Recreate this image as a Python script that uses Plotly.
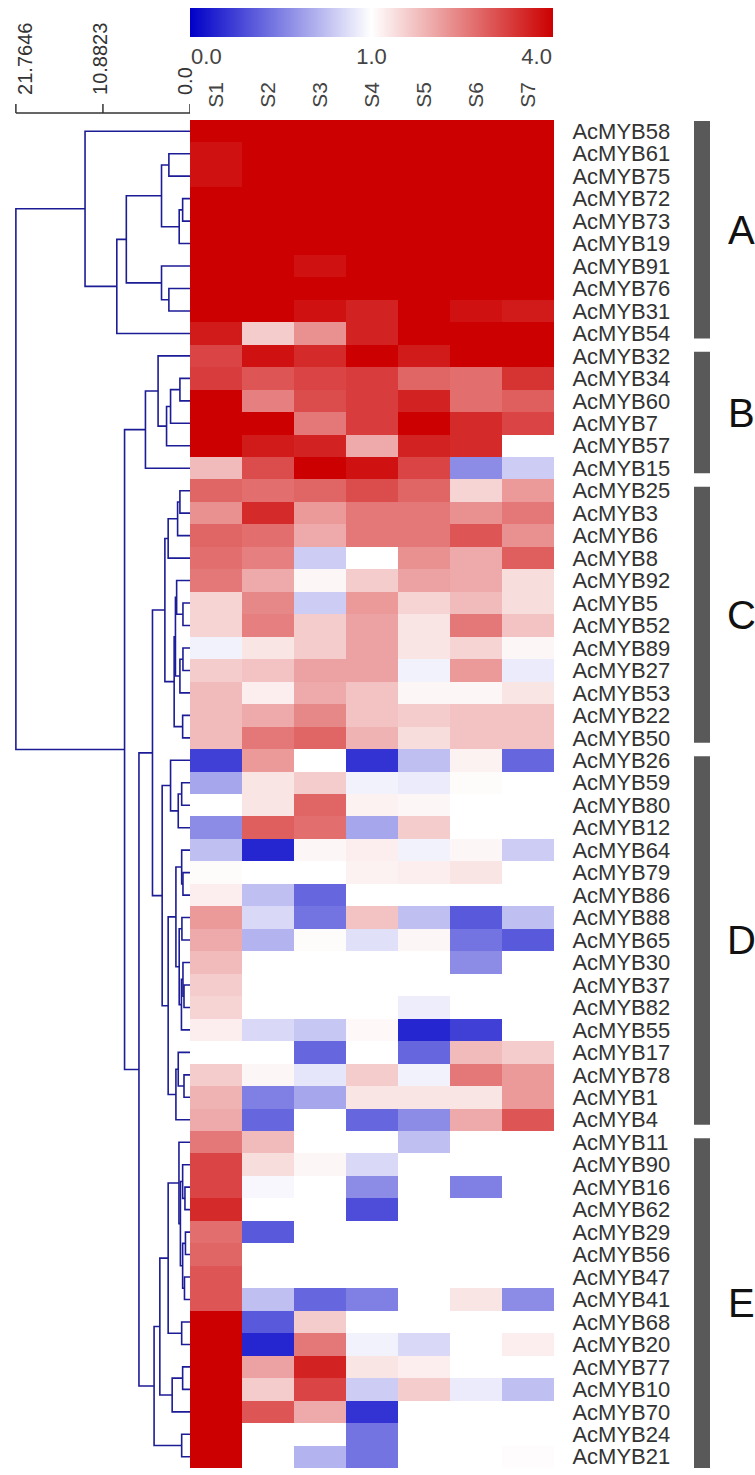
import plotly.graph_objects as go
import numpy as np

W, H = 755, 1475

SAMPLES = ["S1", "S2", "S3", "S4", "S5", "S6", "S7"]

GENES = [
    "AcMYB58", "AcMYB61", "AcMYB75", "AcMYB72", "AcMYB73", "AcMYB19", "AcMYB91", "AcMYB76", "AcMYB31", "AcMYB54",
    "AcMYB32", "AcMYB34", "AcMYB60", "AcMYB7", "AcMYB57", "AcMYB15",
    "AcMYB25", "AcMYB3", "AcMYB6", "AcMYB8", "AcMYB92", "AcMYB5", "AcMYB52", "AcMYB89", "AcMYB27", "AcMYB53",
    "AcMYB22", "AcMYB50",
    "AcMYB26", "AcMYB59", "AcMYB80", "AcMYB12", "AcMYB64", "AcMYB79", "AcMYB86", "AcMYB88", "AcMYB65", "AcMYB30",
    "AcMYB37", "AcMYB82", "AcMYB55", "AcMYB17", "AcMYB78", "AcMYB1", "AcMYB4",
    "AcMYB11", "AcMYB90", "AcMYB16", "AcMYB62", "AcMYB29", "AcMYB56", "AcMYB47", "AcMYB41", "AcMYB68", "AcMYB20",
    "AcMYB77", "AcMYB10", "AcMYB70", "AcMYB24", "AcMYB21",
]

# relative expression (colour scale 0 - 1 - 4), one list per gene, S1..S7
VALUES = [
    [4.0, 4.0, 4.0, 4.0, 4.0, 4.0, 4.0],
    [3.8, 4.0, 4.0, 4.0, 4.0, 4.0, 4.0],
    [3.8, 4.0, 4.0, 4.0, 4.0, 4.0, 4.0],
    [4.0, 4.0, 4.0, 4.0, 4.0, 4.0, 4.0],
    [4.0, 4.0, 4.0, 4.0, 4.0, 4.0, 4.0],
    [4.0, 4.0, 4.0, 4.0, 4.0, 4.0, 4.0],
    [4.0, 4.0, 3.8, 4.0, 4.0, 4.0, 4.0],
    [4.0, 4.0, 4.0, 4.0, 4.0, 4.0, 4.0],
    [4.0, 4.0, 3.8, 3.6, 4.0, 3.8, 3.7],
    [3.7, 1.6, 2.3, 3.6, 4.0, 4.0, 4.0],
    [3.2, 3.8, 3.5, 4.0, 3.7, 4.0, 4.0],
    [3.3, 3.0, 3.2, 3.3, 2.8, 2.7, 3.4],
    [4.0, 2.5, 3.1, 3.3, 3.6, 2.7, 2.9],
    [4.0, 4.0, 2.6, 3.3, 4.0, 3.5, 3.2],
    [4.0, 3.7, 3.6, 2.0, 3.6, 3.5, 1.0],
    [1.8, 3.1, 4.0, 3.8, 3.2, 0.55, 0.8],
    [2.8, 2.7, 2.8, 3.1, 2.8, 1.5, 2.2],
    [2.3, 3.5, 2.2, 2.6, 2.6, 2.3, 2.6],
    [2.8, 2.7, 2.0, 2.6, 2.6, 3.0, 2.3],
    [2.7, 2.5, 0.8, 1.0, 2.3, 2.0, 2.9],
    [2.6, 2.0, 1.1, 1.6, 2.1, 2.0, 1.4],
    [1.5, 2.4, 0.8, 2.2, 1.5, 1.8, 1.4],
    [1.5, 2.5, 1.6, 2.1, 1.3, 2.6, 1.7],
    [0.95, 1.3, 1.6, 2.1, 1.3, 1.5, 1.1],
    [1.6, 1.7, 2.1, 2.1, 0.95, 2.2, 0.92],
    [1.8, 1.2, 2.0, 1.7, 1.1, 1.1, 1.3],
    [1.8, 2.0, 2.4, 1.7, 1.6, 1.7, 1.7],
    [1.8, 2.6, 2.8, 1.9, 1.4, 1.7, 1.7],
    [0.25, 2.2, 1.0, 0.2, 0.75, 1.15, 0.4],
    [0.65, 1.3, 1.6, 0.95, 0.92, 1.05, 1.0],
    [1.0, 1.3, 2.8, 1.15, 1.1, 1.0, 1.0],
    [0.55, 2.9, 2.7, 0.65, 1.6, 1.0, 1.0],
    [0.75, 0.15, 1.1, 1.2, 0.95, 1.1, 0.8],
    [1.05, 1.0, 1.0, 1.15, 1.2, 1.3, 1.0],
    [1.2, 0.75, 0.4, 1.0, 1.0, 1.0, 1.0],
    [2.2, 0.85, 0.45, 1.7, 0.75, 0.35, 0.75],
    [2.0, 0.7, 1.05, 0.88, 1.1, 0.45, 0.35],
    [1.8, 1.0, 1.0, 1.0, 1.0, 0.55, 1.0],
    [1.6, 1.0, 1.0, 1.0, 1.0, 1.0, 1.0],
    [1.5, 1.0, 1.0, 1.0, 0.93, 1.0, 1.0],
    [1.2, 0.85, 0.78, 1.08, 0.15, 0.25, 1.0],
    [1.0, 1.0, 0.4, 1.0, 0.4, 1.8, 1.6],
    [1.6, 1.1, 0.9, 1.6, 0.95, 2.6, 2.2],
    [1.9, 0.5, 0.65, 1.3, 1.3, 1.3, 2.2],
    [2.0, 0.4, 1.0, 0.4, 0.55, 2.0, 3.0],
    [2.6, 1.8, 1.0, 1.0, 0.75, 1.0, 1.0],
    [3.2, 1.4, 1.1, 0.85, 1.0, 1.0, 1.0],
    [3.2, 0.97, 1.0, 0.55, 1.0, 0.5, 1.0],
    [3.5, 1.0, 1.0, 0.3, 1.0, 1.0, 1.0],
    [2.7, 0.35, 1.0, 1.0, 1.0, 1.0, 1.0],
    [2.8, 1.0, 1.0, 1.0, 1.0, 1.0, 1.0],
    [3.0, 1.0, 1.0, 1.0, 1.0, 1.0, 1.0],
    [3.0, 0.75, 0.4, 0.5, 1.0, 1.3, 0.55],
    [4.0, 0.35, 1.6, 1.0, 1.0, 1.0, 1.0],
    [4.0, 0.15, 2.6, 0.95, 0.85, 1.0, 1.2],
    [4.0, 2.1, 3.6, 1.3, 1.2, 1.0, 1.0],
    [4.0, 1.6, 3.2, 0.8, 1.6, 0.92, 0.75],
    [4.0, 3.0, 2.0, 0.2, 1.0, 1.0, 1.0],
    [4.0, 1.0, 1.0, 0.45, 1.0, 1.0, 1.0],
    [4.0, 1.0, 0.7, 0.45, 1.0, 1.0, 1.04],
]

# hierarchical clustering merges: [child_a, child_b, distance]; leaves 0..59, merge k -> id 60+k
LINKAGE = [
    [1, 2, 2.64], [3, 4, 0.92], [61, 5, 1.35], [60, 62, 3.56], [7, 8, 2.64],
    [6, 64, 3.56], [63, 65, 7.96], [66, 9, 9.15], [0, 67, 13.12],
    [11, 12, 1.26], [69, 13, 2.43], [70, 14, 2.93], [10, 71, 3.99], [72, 15, 5.57],
    [16, 17, 1.26], [74, 18, 1.55], [75, 19, 2.73], [21, 22, 0.88], [20, 77, 1.67],
    [23, 24, 0.88], [79, 25, 1.26], [78, 80, 1.82], [26, 27, 0.92], [81, 82, 1.98], [76, 83, 3.14],
    [29, 30, 1.04], [85, 31, 1.47], [28, 86, 2.43], [33, 34, 0.88], [32, 88, 1.04],
    [35, 36, 1.01], [38, 39, 0.75], [37, 91, 0.88], [92, 40, 1.07], [90, 93, 1.35],
    [89, 94, 1.76], [42, 43, 0.75], [41, 96, 1.47], [97, 44, 1.76], [95, 98, 2.73],
    [87, 99, 3.48], [84, 100, 4.69],
    [47, 48, 0.63], [46, 102, 0.92], [49, 50, 0.57], [51, 52, 0.69], [104, 105, 0.92],
    [103, 106, 1.20], [45, 107, 1.38], [53, 54, 1.04], [108, 109, 2.73], [55, 56, 0.92],
    [111, 57, 2.23], [110, 112, 3.77], [58, 59, 1.04], [113, 114, 4.49],
    [101, 115, 6.38], [73, 116, 8.18], [68, 117, 21.7646],
]

SCALE_TICKS = [21.7646, 10.8823, 0.0]
SCALE_LABELS = ["21.7646", "10.8823", "0.0"]

CLUSTER_NAMES = ["A", "B", "C", "D", "E"]
CLUSTER_FIRST = [0, 10, 16, 28, 45]
CLUSTER_LAST = [9, 15, 27, 44, 59]

COLOR_TICKS = [0.0, 1.0, 4.0]


def to_scale(v):
    # piecewise colour position: 0..1 -> 0..0.5, 1..4 -> 0.5..1
    v = np.asarray(v, dtype=float)
    t = np.where(v <= 1.0, v / 2.0, 0.5 + (v - 1.0) / 6.0)
    return np.clip(t, 0, 1)


def px_x(p):
    return p / W


def px_y(p):
    return 1 - p / H


n = len(GENES)
z = to_scale(VALUES)

HM_TOP, HM_BOT = 120, 1468
HM_L, HM_R = 190, 554
ydom = [px_y(HM_BOT), px_y(HM_TOP)]

colorscale = [[0.0, "rgb(0,0,200)"], [0.5, "rgb(255,255,255)"], [1.0, "rgb(204,0,0)"]]
FONT = "Liberation Sans, Arial, sans-serif"

# colour-bar end labels sit inside the bar ends, as in the source figure
cb_pos = to_scale(COLOR_TICKS)
cb_pos = [cb_pos[0] + 0.045, cb_pos[1], cb_pos[2] - 0.045]

fig = go.Figure()
fig.add_trace(go.Heatmap(
    z=z, x=list(range(len(SAMPLES))), y=list(range(n)),
    zmin=0, zmax=1, colorscale=colorscale, xgap=0, ygap=0,
    colorbar=dict(
        orientation="h", x=px_x(HM_L), xanchor="left", y=px_y(8), yanchor="top",
        len=HM_R - HM_L - 1, lenmode="pixels", thickness=29, thicknessmode="pixels",
        tickvals=cb_pos, ticktext=[f"{v:.1f}" for v in COLOR_TICKS],
        ticks="", tickfont=dict(size=22, color="#444", family=FONT),
        outlinewidth=0, xpad=0, ypad=0,
    ),
    hoverinfo="skip",
))

# dendrogram coordinates
pos = {i: (0.0, float(i)) for i in range(n)}
dx, dy = [], []
for k, (a, b, h) in enumerate(LINKAGE):
    ha, ya = pos[a]
    hb, yb = pos[b]
    dx += [ha, h, h, hb, None]
    dy += [ya, ya, yb, yb, None]
    pos[n + k] = (h, (ya + yb) / 2)

fig.add_trace(go.Scatter(x=dx, y=dy, mode="lines", xaxis="x2", yaxis="y2",
                         line=dict(color="#1c1c96", width=1.6), hoverinfo="skip", showlegend=False))

PX_PER_UNIT = 8.0
fig.update_layout(
    width=W, height=H, margin=dict(l=0, r=0, t=0, b=0, pad=0, autoexpand=False),
    paper_bgcolor="white", plot_bgcolor="white", showlegend=False,
    font=dict(family=FONT, color="#333"),
    xaxis=dict(domain=[px_x(HM_L), px_x(HM_R)], range=[-0.5, len(SAMPLES) - 0.5], side="top",
               tickvals=list(range(len(SAMPLES))), ticktext=SAMPLES, tickangle=-90,
               tickfont=dict(size=21, color="#444"), ticks="outside", ticklen=7,
               tickcolor="rgba(0,0,0,0)", showgrid=False, zeroline=False,
               showline=False, anchor="y", automargin=False),
    yaxis=dict(domain=ydom, range=[n - 0.5, -0.5], side="right", tickvals=list(range(n)),
               ticktext=GENES, tickfont=dict(size=22, color="#333"), ticks="outside", ticklen=13,
               tickcolor="rgba(0,0,0,0)", showgrid=False, zeroline=False, showline=False, anchor="x",
               automargin=False),
    xaxis2=dict(domain=[0, px_x(HM_L)], range=[HM_L / PX_PER_UNIT, 0], visible=False, anchor="y2",
                automargin=False),
    yaxis2=dict(domain=ydom, range=[n - 0.5, -0.5], visible=False, anchor="x2", automargin=False),
)

# distance scale bar above dendrogram
SB_Y, SB_TICK = 113, 104
shapes = [dict(type="line", xref="x2", yref="paper", x0=SCALE_TICKS[0], x1=SCALE_TICKS[-1],
               y0=px_y(SB_Y), y1=px_y(SB_Y), line=dict(color="#333", width=1.5))]
annotations = []
for v, lab, sh in zip(SCALE_TICKS, SCALE_LABELS, [9, -3, -5]):
    shapes.append(dict(type="line", xref="x2", yref="paper", x0=v, x1=v, y0=px_y(SB_Y), y1=px_y(SB_TICK),
                       line=dict(color="#333", width=1.5)))
    annotations.append(dict(x=v, y=px_y(97), xref="x2", yref="paper", text=lab, textangle=-90,
                            showarrow=False, xanchor="center", yanchor="bottom", xshift=sh,
                            font=dict(size=20, color="#333")))

# cluster bars and letters
for name, a, b in zip(CLUSTER_NAMES, CLUSTER_FIRST, CLUSTER_LAST):
    y0 = a - 0.5 + (0.05 if a == 0 else 0.32)
    y1 = b + 0.5 - (0.0 if b == n - 1 else 0.28)
    shapes.append(dict(type="rect", xref="paper", yref="y", x0=px_x(694), x1=px_x(710), y0=y0, y1=y1,
                       fillcolor="#595959", line=dict(width=0)))
    annotations.append(dict(x=px_x(741), y=(y0 + y1) / 2, xref="paper", yref="y", text=name,
                            showarrow=False, xanchor="center", yanchor="middle",
                            font=dict(size=40, color="#111")))

fig.update_layout(shapes=shapes, annotations=annotations)
fig.write_html("out.html", config={"displayModeBar": False},
               post_script="document.body.style.margin='0';document.body.style.overflow='hidden';")
